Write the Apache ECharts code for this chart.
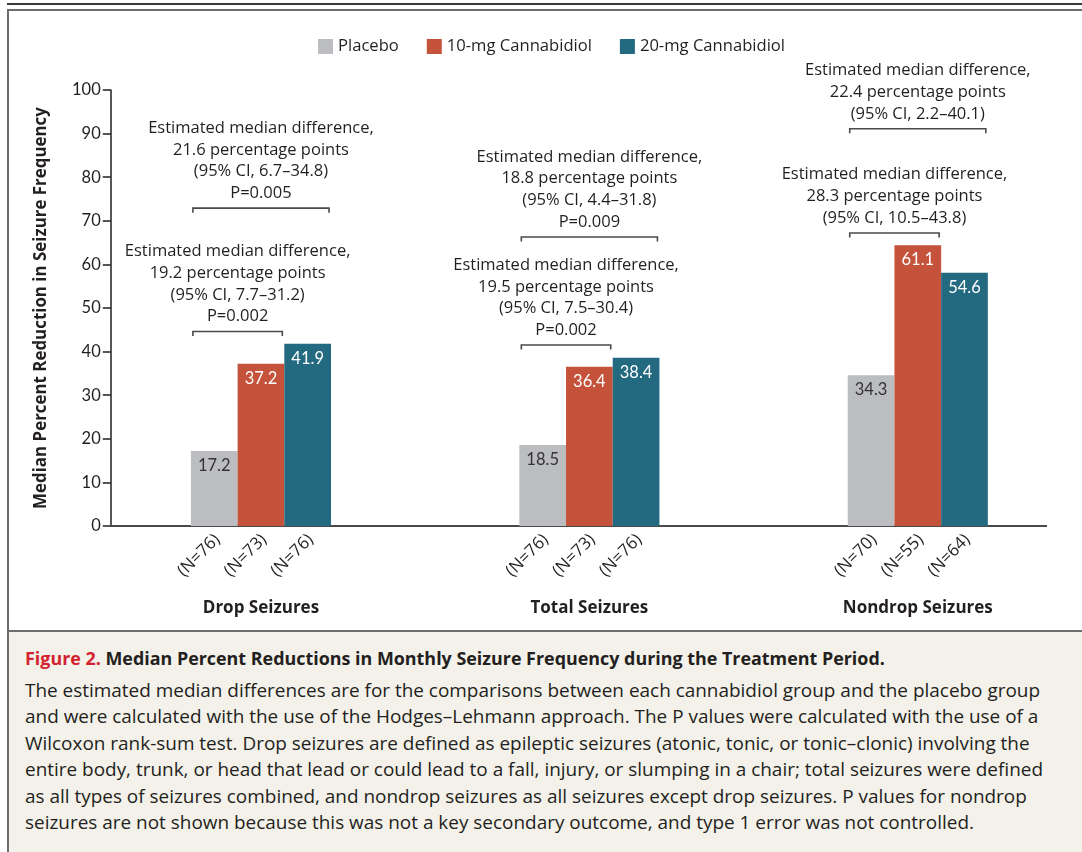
<!DOCTYPE html>
<html><head><meta charset="utf-8">
<script src="https://cdn.jsdelivr.net/npm/echarts@6/dist/echarts.min.js"></script>
<style>
html,body{margin:0;padding:0;background:#fff;width:1082px;height:852px;overflow:hidden;font-family:"Open Sans",sans-serif;color:#231f20;}
#rule{position:absolute;left:7px;top:3px;width:1075px;height:2px;background:#3a3a3a;}
#frame{position:absolute;left:7px;top:9px;width:1090px;height:860px;border-left:2px solid #6d6d6d;border-top:2px solid #6d6d6d;box-sizing:border-box;}
#cap{position:absolute;left:9px;top:630px;width:1073px;height:222px;background:#f4f1ea;border-top:2px solid #6d6d6d;}
#cap div{position:absolute;left:16px;white-space:nowrap;line-height:26.4px;}
#cap .t{top:13px;font-weight:bold;font-size:17.9px;}
#cap .t span{color:#d3232e;}
#cap .b{top:45px;font-size:18.95px;}
#chart{position:absolute;left:0;top:0;width:1082px;height:630px;}
</style></head>
<body>
<div id="rule"></div>
<div id="frame"></div>
<div id="cap">
<div class="t"><span>Figure 2.</span> Median Percent Reductions in Monthly Seizure Frequency during the Treatment Period.</div>
<div class="b">The estimated median differences are for the comparisons between each cannabidiol group and the placebo group<br>and were calculated with the use of the Hodges–Lehmann approach. The P values were calculated with the use of a<br>Wilcoxon rank-sum test. Drop seizures are defined as epileptic seizures (atonic, tonic, or tonic–clonic) involving the<br>entire body, trunk, or head that lead or could lead to a fall, injury, or slumping in a chair; total seizures were defined<br>as all types of seizures combined, and nondrop seizures as all seizures except drop seizures. P values for nondrop<br>seizures are not shown because this was not a key secondary outcome, and type 1 error was not controlled.</div>
</div>
<div id="chart"></div>
<script>
const groups = ['Drop Seizures', 'Total Seizures', 'Nondrop Seizures'];
const seriesNames = ['Placebo', '10-mg Cannabidiol', '20-mg Cannabidiol'];
// printed values (bar labels)
const placeboLabel = [17.2, 18.5, 34.3];
const cbd10Label = [37.2, 36.4, 61.1];
const cbd20Label = [41.9, 38.4, 54.6];
// bar heights as drawn in the picture (nondrop bars are drawn taller than printed)
const placeboBar = [17.2, 18.6, 34.6];
const cbd10Bar = [37.2, 36.5, 64.4];
const cbd20Bar = [41.8, 38.6, 58.1];
const nPlacebo = [76, 76, 70];
const nCbd10 = [73, 73, 55];
const nCbd20 = [76, 76, 64];
const yMin = 0, yMax = 100, yStep = 10;

// comparison brackets: group, level (axis units), from series, to series
const bracketGroup = [0, 0, 1, 1, 2, 2];
const bracketLevel = [44.6, 72.9, 41.5, 66.3, 67.2, 91.1];
const bracketFrom = [0, 0, 0, 0, 0, 0];
const bracketTo = [1, 2, 1, 2, 1, 2];
const bracketText = [
  ['Estimated median difference,', '19.2 percentage points', '(95% CI, 7.7–31.2)', 'P=0.002'],
  ['Estimated median difference,', '21.6 percentage points', '(95% CI, 6.7–34.8)', 'P=0.005'],
  ['Estimated median difference,', '19.5 percentage points', '(95% CI, 7.5–30.4)', 'P=0.002'],
  ['Estimated median difference,', '18.8 percentage points', '(95% CI, 4.4–31.8)', 'P=0.009'],
  ['Estimated median difference,', '28.3 percentage points', '(95% CI, 10.5–43.8)'],
  ['Estimated median difference,', '22.4 percentage points', '(95% CI, 2.2–40.1)']
];

const colors = ['#bcbdc1', '#c5533b', '#236a81'];
const TXT = '#231f20';
const FONT = '"Open Sans"';
const NUMFONT = 'Lato';
const BAR_W = 46.7;
const bars = [placeboBar, cbd10Bar, cbd20Bar];
const labels = [placeboLabel, cbd10Label, cbd20Label];
const nVals = [nPlacebo, nCbd10, nCbd20];

const chart = echarts.init(document.getElementById('chart'), null, {renderer: 'canvas'});

const barSeries = seriesNames.map((name, s) => ({
  name: name,
  type: 'bar',
  data: bars[s],
  barWidth: BAR_W,
  barGap: '0%',
  itemStyle: {color: colors[s]},
  label: {
    show: true, position: 'insideTop', distance: 6,
    color: s === 0 ? '#333' : '#fff', fontSize: 16.5, fontFamily: NUMFONT,
    formatter: p => labels[s][p.dataIndex].toFixed(1)
  }
}));

const nData = [];
for (let s = 0; s < 3; s++) for (let g = 0; g < 3; g++) nData.push([g, 0, s, nVals[s][g]]);

const bData = bracketGroup.map((g, i) => [g, bracketLevel[i], bracketFrom[i], bracketTo[i], i]);

const option = {
  animation: false,
  textStyle: {fontFamily: FONT},
  legend: {
    data: seriesNames, top: 33, left: 313,
    itemWidth: 15, itemHeight: 15, itemGap: 28, icon: 'rect',
    textStyle: {fontSize: 16.6, color: TXT, fontFamily: FONT}
  },
  grid: {left: 96.75, top: 90, width: 991.5, height: 436},
  xAxis: {
    type: 'category', data: groups,
    axisLine: {show: false}, axisTick: {show: false},
    axisLabel: {margin: 74, fontSize: 17, fontWeight: 'bold', color: TXT, fontFamily: FONT}
  },
  yAxis: {
    type: 'value', min: yMin, max: yMax, interval: yStep, offset: -14,
    name: 'Median Percent Reduction in Seizure Frequency',
    nameLocation: 'middle', nameGap: 61,
    nameTextStyle: {fontSize: 16.9, fontWeight: 'bold', color: TXT, fontFamily: FONT},
    axisLine: {show: true, lineStyle: {color: '#231f20', width: 1.5}},
    axisTick: {show: true, length: 8, lineStyle: {color: '#231f20', width: 1.5}},
    axisLabel: {margin: 10, fontSize: 16.5, color: TXT, fontFamily: NUMFONT},
    splitLine: {show: false}
  },
  series: barSeries.concat([
    {
      type: 'custom', silent: true, data: nData,
      encode: {x: 0, y: 1},
      renderItem: (params, api) => {
        const c = api.coord([api.value(0), 0]);
        const s = api.value(2);
        return {
          type: 'text',
          x: c[0] + (s - 1) * BAR_W + 3, y: c[1] + 11,
          rotation: Math.PI / 4,
          style: {text: '(N=' + api.value(3) + ')', align: 'right', verticalAlign: 'middle',
                  fill: TXT, font: '17px ' + FONT}
        };
      }
    },
    {
      type: 'custom', silent: true, data: bData,
      encode: {x: 0, y: 1},
      renderItem: (params, api) => {
        const c = api.coord([api.value(0), api.value(1)]);
        const f = api.value(2), t = api.value(3);
        const x1 = c[0] + (f - 1) * BAR_W - BAR_W / 2 + 2;
        const x2 = c[0] + (t - 1) * BAR_W + BAR_W / 2 - 2;
        const y = c[1];
        return {
          type: 'group',
          children: [
            {type: 'polyline', shape: {points: [[x1, y + 4.5], [x1, y], [x2, y], [x2, y + 4.5]]},
             style: {stroke: '#4a4a4a', lineWidth: 1.6, fill: null}},
            {type: 'text', x: (x1 + x2) / 2, y: y - 4,
             style: {text: bracketText[api.value(4)].join('\n'), align: 'center', verticalAlign: 'bottom',
                     lineHeight: 21.7, fill: TXT, font: '16.5px ' + FONT}}
          ]
        };
      }
    }
  ])
};
chart.setOption(option);

// x-axis baseline from the y axis to the end of the plotted region
const y0 = chart.convertToPixel({yAxisIndex: 0}, 0);
const xStart = chart.convertToPixel({gridIndex: 0}, [0, 0])[0] - 165.25 + 14;
chart.setOption({
  graphic: [{
    type: 'line', z: 1,
    shape: {x1: xStart - 0.75, y1: y0, x2: 1047, y2: y0},
    style: {stroke: '#4a4a4a', lineWidth: 2}
  }]
});
</script>
</body></html>
